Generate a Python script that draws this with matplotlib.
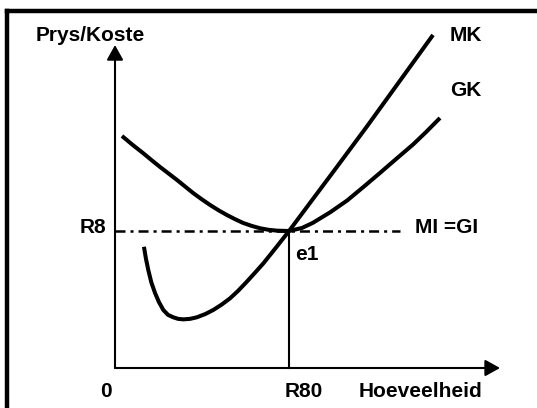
import numpy as np
import matplotlib
matplotlib.use('Agg')
import matplotlib.pyplot as plt
from matplotlib.lines import Line2D

plt.rcParams['font.family'] = ['Liberation Sans', 'DejaVu Sans']
plt.rcParams['lines.scale_dashes'] = False

# curve points (quantity, price)
gk_x = [3.2, 8.0, 12.9, 16.8, 20.7, 24.6, 28.5, 32.2, 35.9, 39.8, 43.7, 47.6, 51.5, 55.2,
        58.9, 62.8, 66.7, 70.6, 74.5, 80.0, 86.0, 91.0, 99.0, 106.7, 114.0, 121.8, 129.0,
        137.0, 143.0, 149.4]
gk_y = [13.55, 13.04, 12.55, 12.14, 11.74, 11.36, 10.98, 10.6, 10.22, 9.86, 9.52, 9.21, 8.93, 8.69,
        8.47, 8.3, 8.16, 8.07, 8.02, 8.0, 8.18, 8.48, 9.1, 9.78, 10.55, 11.39, 12.18,
        13.05, 13.78, 14.6]

mk_x = [13.3, 14.2, 15.3, 16.7, 18.4, 20.2, 22.2, 24.4, 26.8, 29.0, 31.4, 34.5, 37.6, 41.5,
        45.2, 49.0, 52.9, 56.7, 60.6, 64.4, 68.2, 74.0, 80.0, 86.0, 100.0, 115.9, 130.0, 146.2]
mk_y = [7.08, 6.4, 5.72, 5.0, 4.38, 3.85, 3.39, 3.1, 2.96, 2.87, 2.84, 2.87, 2.96, 3.15,
        3.39, 3.7, 4.07, 4.52, 5.04, 5.57, 6.11, 7.03, 8.0, 9.02, 11.4, 14.12, 16.6, 19.45]

price = 8.0      # R8
quantity = 80.0  # R80
mr_end = 131.0

fig = plt.figure(figsize=(5.37, 4.08), dpi=100)
ax = fig.add_axes([0, 0, 1, 1])
ax.set_xlim(-52.87, 194.0)
ax.set_ylim(-2.336, 21.49)
ax.axis('off')

# frame (left and top only)
fig.add_artist(Line2D([7/537, 7/537], [0, 1 - 11/408], color='black', lw=3.2))
fig.add_artist(Line2D([7/537, 1], [1 - 11/408, 1 - 11/408], color='black', lw=3.2))

# axes with arrows
arrow = dict(arrowstyle='-|>,head_length=0.9,head_width=0.5', mutation_scale=10,
             lw=1.5, color='black', shrinkA=0, shrinkB=0)
ax.annotate('', xy=(0, 18.86), xytext=(0, 0), arrowprops=arrow)
ax.annotate('', xy=(177.0, 0), xytext=(0, 0), arrowprops=arrow)

# MI = GI line
ax.plot([0, mr_end], [price, price], color='black', lw=1.8, dashes=(7.2, 3.6, 2.2, 3.6))
# R80 vertical
ax.plot([quantity, quantity], [0, price], color='black', lw=1.5)

ax.plot(gk_x, gk_y, color='black', lw=2.9, solid_capstyle='butt', solid_joinstyle='round')
ax.plot(mk_x, mk_y, color='black', lw=2.9, solid_capstyle='butt', solid_joinstyle='round')

fs = 15
tkw = dict(fontsize=fs, fontweight='bold', va='center')
ax.text(-36.3, 19.39, 'Prys/Koste', ha='left', **tkw)
ax.text(-4.1, 8.18, 'R8', ha='right', **tkw)
ax.text(-4.1, -1.40, '0', ha='center', **tkw)
ax.text(78.2, -1.40, 'R80', ha='left', **tkw)
ax.text(112.2, -1.40, 'Hoeveelheid', ha='left', **tkw)
ax.text(137.9, 8.23, 'MI =GI', ha='left', **tkw)
ax.text(82.8, 6.6, 'e1', ha='left', **tkw)
ax.text(154.0, 19.39, 'MK', ha='left', **tkw)
ax.text(154.0, 16.23, 'GK', ha='left', **tkw)

plt.savefig('out.png', dpi=100)
